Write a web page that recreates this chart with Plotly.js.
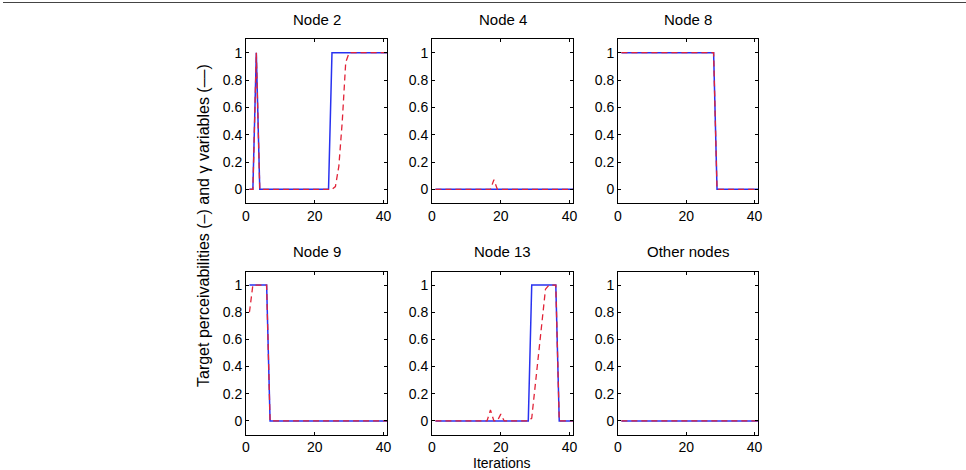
<!DOCTYPE html>
<html>
<head>
<meta charset="utf-8">
<script src="https://cdn.plot.ly/plotly-3.0.1.min.js"></script>
<style>
  html, body { margin: 0; padding: 0; background: #fff; }
  #chart { width: 966px; height: 470px; }
</style>
</head>
<body>
<div id="chart"></div>
<script>
// Iteration index shared by every panel
const iterations = [1,2,3,4,5,6,7,8,9,10,11,12,13,14,15,16,17,18,19,20,21,22,23,24,25,26,27,28,29,30,31,32,33,34,35,36,37,38,39,40,41];

// Panel titles
const panelTitles = ["Node 2", "Node 4", "Node 8", "Node 9", "Node 13", "Other nodes"];

// Target perceivabilities (solid) per panel
const node2Perc  = [0,0,1,0,0,0,0,0,0,0,0,0,0,0,0,0,0,0,0,0,0,0,0,0,1,1,1,1,1,1,1,1,1,1,1,1,1,1,1,1,1];
const node4Perc  = [0,0,0,0,0,0,0,0,0,0,0,0,0,0,0,0,0,0,0,0,0,0,0,0,0,0,0,0,0,0,0,0,0,0,0,0,0,0,0,0,0];
const node8Perc  = [1,1,1,1,1,1,1,1,1,1,1,1,1,1,1,1,1,1,1,1,1,1,1,1,1,1,1,1,0,0,0,0,0,0,0,0,0,0,0,0,0];
const node9Perc  = [1,1,1,1,1,1,0,0,0,0,0,0,0,0,0,0,0,0,0,0,0,0,0,0,0,0,0,0,0,0,0,0,0,0,0,0,0,0,0,0,0];
const node13Perc = [0,0,0,0,0,0,0,0,0,0,0,0,0,0,0,0,0,0,0,0,0,0,0,0,0,0,0,0,1,1,1,1,1,1,1,1,0,0,0,0,0];
const otherPerc  = [0,0,0,0,0,0,0,0,0,0,0,0,0,0,0,0,0,0,0,0,0,0,0,0,0,0,0,0,0,0,0,0,0,0,0,0,0,0,0,0,0];

// Gamma variables (dashed) per panel
const node2Gamma  = [0,0,1,0,0,0,0,0,0,0,0,0,0,0,0,0,0,0,0,0,0,0,0,0,0,0.02,0.17,0.5,0.93,1,1,1,1,1,1,1,1,1,1,1,1];
const node4Gamma  = [0,0,0,0,0,0,0,0,0,0,0,0,0,0,0,0,0,0.07,0,0,0,0,0,0,0,0,0,0,0,0,0,0,0,0,0,0,0,0,0,0,0];
const node8Gamma  = [1,1,1,1,1,1,1,1,1,1,1,1,1,1,1,1,1,1,1,1,1,1,1,1,1,1,1,1,0,0,0,0,0,0,0,0,0,0,0,0,0];
const node9Gamma  = [0.8,1,1,1,1,1,0,0,0,0,0,0,0,0,0,0,0,0,0,0,0,0,0,0,0,0,0,0,0,0,0,0,0,0,0,0,0,0,0,0,0];
const node13Gamma = [0,0,0,0,0,0,0,0,0,0,0,0,0,0,0,0,0.08,0,0,0.05,0,0,0,0,0,0,0,0,0.02,0.25,0.5,0.75,0.97,1,1,1,0,0,0,0,0];
const otherGamma  = [0,0,0,0,0,0,0,0,0,0,0,0,0,0,0,0,0,0,0,0,0,0,0,0,0,0,0,0,0,0,0,0,0,0,0,0,0,0,0,0,0];

// Axis ticks
const xTicks = [0, 20, 40];
const yTicks = [0, 0.2, 0.4, 0.6, 0.8, 1];

const percSeries  = [node2Perc, node4Perc, node8Perc, node9Perc, node13Perc, otherPerc];
const gammaSeries = [node2Gamma, node4Gamma, node8Gamma, node9Gamma, node13Gamma, otherGamma];

const W = 966, H = 470;
// panel boxes in pixels: [left, right] columns and [top, bottom] rows
const cols = [[246, 387], [432, 573], [618, 758]];
const rows = [[39, 203], [271.5, 434.5]];

const FONT = "'Liberation Sans', Arial, Helvetica, sans-serif";
const blue = "rgb(40,50,240)";
const red = "rgb(225,35,55)";

const traces = [];
const layout = {
  width: W, height: H,
  margin: {l: 0, r: 0, t: 0, b: 0},
  paper_bgcolor: "#fff", plot_bgcolor: "#fff",
  showlegend: false,
  font: {family: FONT, size: 14, color: "#000"},
  annotations: [],
  shapes: []
};

for (let i = 0; i < 6; i++) {
  const r = Math.floor(i / 3), c = i % 3;
  const n = i + 1;
  const xa = n === 1 ? "x" : "x" + n;
  const ya = n === 1 ? "y" : "y" + n;
  const xKey = n === 1 ? "xaxis" : "xaxis" + n;
  const yKey = n === 1 ? "yaxis" : "yaxis" + n;

  traces.push({
    x: iterations, y: percSeries[i], xaxis: xa, yaxis: ya,
    type: "scatter", mode: "lines",
    line: {color: blue, width: 1.5}, hoverinfo: "skip"
  });
  traces.push({
    x: iterations, y: gammaSeries[i], xaxis: xa, yaxis: ya,
    type: "scatter", mode: "lines",
    line: {color: red, width: 1.3, dash: "6px,4px"}, hoverinfo: "skip"
  });

  const common = {
    showline: true, linecolor: "#000", linewidth: 1, mirror: "ticks",
    ticks: "inside", ticklen: 3, tickcolor: "#000", tickwidth: 1,
    showgrid: false, zeroline: false, fixedrange: true,
    tickfont: {family: FONT, size: 14, color: "#000"}
  };
  layout[xKey] = Object.assign({}, common, {
    domain: [cols[c][0] / W, cols[c][1] / W],
    range: [0, 41], tickmode: "array", tickvals: xTicks,
    anchor: ya
  });
  layout[yKey] = Object.assign({}, common, {
    domain: [1 - rows[r][1] / H, 1 - rows[r][0] / H],
    range: [-0.1, 1.1], tickmode: "array", tickvals: yTicks,
    anchor: xa
  });

  layout.annotations.push({
    text: panelTitles[i], xref: "paper", yref: "paper",
    x: (cols[c][0] + cols[c][1]) / 2 / W,
    y: 1 - (rows[r][0] - 20) / H,
    xanchor: "center", yanchor: "middle", showarrow: false,
    font: {family: FONT, size: 15, color: "#000"}
  });
}

layout.annotations.push({
  text: "Target perceivabilities (\u2013) and \u03b3 variables (\u2013\u2013)",
  xref: "paper", yref: "paper", x: 204 / W, y: 1 - 226 / H,
  textangle: -90, xanchor: "center", yanchor: "middle", showarrow: false,
  font: {family: FONT, size: 16, color: "#000"}
});
layout.annotations.push({
  text: "Iterations", xref: "paper", yref: "paper",
  x: 502 / W, y: 1 - 462.5 / H, xanchor: "center", yanchor: "middle",
  showarrow: false, font: {family: FONT, size: 14, color: "#000"}
});

// thin frame rule along the top of the figure
layout.shapes.push({
  type: "line", xref: "paper", yref: "paper",
  x0: 3 / W, x1: 1, y0: 1 - 2.5 / H, y1: 1 - 2.5 / H,
  line: {color: "#444", width: 1}
});

Plotly.newPlot("chart", traces, layout, {displayModeBar: false, staticPlot: true});
</script>
</body>
</html>
